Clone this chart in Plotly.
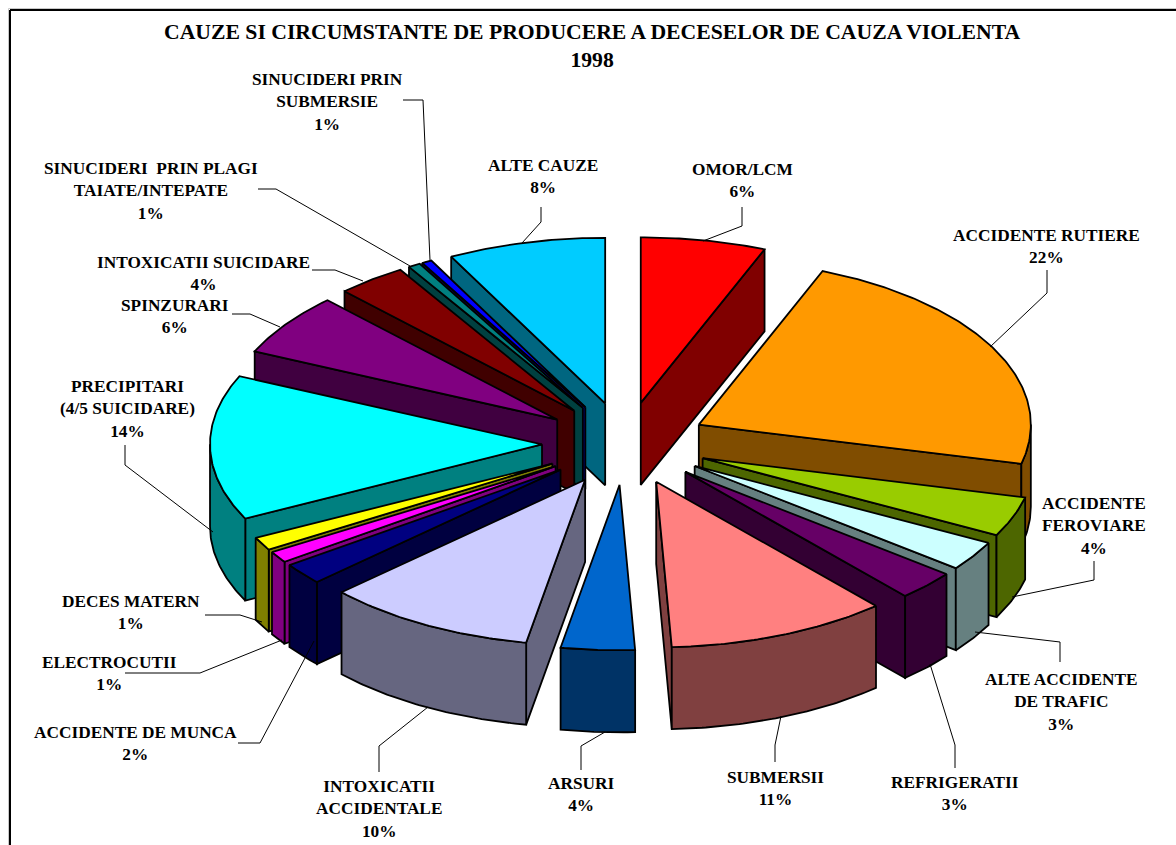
import math
import plotly.graph_objects as go

# ---- data -------------------------------------------------------------
categories = ["OMOR/LCM", "ACCIDENTE RUTIERE", "ACCIDENTE FEROVIARE", "ALTE ACCIDENTE DE TRAFIC",
              "REFRIGERATII", "SUBMERSII", "ARSURI", "INTOXICATII ACCIDENTALE",
              "ACCIDENTE DE MUNCA", "ELECTROCUTII", "DECES MATERN", "PRECIPITARI (4/5 SUICIDARE)",
              "SPINZURARI", "INTOXICATII SUICIDARE", "SINUCIDERI PRIN PLAGI TAIATE/INTEPATE",
              "SINUCIDERI PRIN SUBMERSIE", "ALTE CAUZE"]
values = [6.1, 22.8, 3.9, 2.9, 2.9, 10.8, 3.6, 10.3, 2.1, 1.1, 1.3, 14.2, 6.1, 3.4, 0.6, 0.5, 7.7]
colors = ["#FF0000", "#FF9900", "#99CC00", "#CCFFFF", "#660066", "#FF8080", "#0066CC", "#CCCCFF",
          "#000080", "#FF00FF", "#FFFF00", "#00FFFF", "#800080", "#800000", "#008080", "#0000FF", "#00CCFF"]
wall_colors = ["#800000", "#804D00", "#4D6600", "#668080", "#330033", "#804040", "#003366", "#666680",
               "#000040", "#800080", "#808000", "#008080", "#400040", "#400000", "#004040", "#000080", "#006680"]

# ---- projection of the 3D pie -------------------------------------------
CX, CY, RX, RY, DEPTH, PULL = 625, 443.5, 332, 165.5, 82, 0.25
LW = 1.8


def rim(ang, ax, ay, dy=0.0):
    r = math.radians(ang)
    return ax + RX * math.sin(r), ay - RY * math.cos(r) + dy


def arc(a0, a1, ax, ay, dy=0.0):
    n = max(2, int(abs(a1 - a0) * 1.5) + 2)
    pts = [rim(a0 + (a1 - a0) * i / (n - 1), ax, ay, dy) for i in range(n)]
    return [p[0] for p in pts], [p[1] for p in pts]


fig = go.Figure()


def poly(xs, ys, fill, name):
    fig.add_trace(go.Scatter(x=xs + xs[:1], y=ys + ys[:1], mode="lines", fill="toself",
                             fillcolor=fill, line=dict(color="black", width=LW),
                             hoverinfo="text", text=name, showlegend=False))


total = sum(values)
slices = []
cum = 0.0
for name, v, c, w in zip(categories, values, colors, wall_colors):
    a0 = cum / total * 360
    cum += v
    a1 = cum / total * 360
    slices.append((name, a0, a1, c, w))
# paint from the back of the pie to the front
slices.sort(key=lambda s: min((s[1] + s[2]) / 2, 360 - (s[1] + s[2]) / 2))

for name, a0, a1, c, w in slices:
    mid = math.radians((a0 + a1) / 2)
    ax = CX + PULL * RX * math.sin(mid)
    ay = CY - PULL * RY * math.cos(mid)
    # cut faces that look to the viewer
    for ang, vis in ((a0, 180 < a0 < 360), (a1, 0 < a1 < 180)):
        if vis:
            ox, oy = rim(ang, ax, ay)
            poly([ax, ox, ox, ax], [ay, oy, oy + DEPTH, ay + DEPTH], w, name)
    # outer wall: only the front half of the rim shows
    w0, w1 = max(a0, 90), min(a1, 270)
    if w1 > w0:
        tx, ty = arc(w0, w1, ax, ay)
        bx, by = arc(w1, w0, ax, ay, DEPTH)
        poly(tx + bx, ty + by, w, name)
    # top face
    tx, ty = arc(a0, a1, ax, ay)
    poly([ax] + tx, [ay] + ty, c, name)

# ---- leader lines -------------------------------------------------------
leaders = [
    [(522, 243), (541, 222), (541, 207)],
    [(703, 241), (742, 226), (742, 207)],
    [(990, 347), (1047, 293), (1047, 270)],
    [(1012, 597), (1094, 580), (1094, 561)],
    [(975, 632), (1060, 642), (1060, 662)],
    [(930, 664), (955, 745), (955, 768)],
    [(781, 716), (775, 745), (775, 762)],
    [(605, 732), (581, 746), (581, 770)],
    [(428, 707), (379, 746), (379, 772)],
    [(314, 641), (260, 743), (238, 743)],
    [(282, 640), (200, 673), (125, 673)],
    [(262, 622), (240, 615), (205, 615)],
    [(213, 532), (125, 465), (125, 445)],
    [(280, 327), (250, 314), (232, 314)],
    [(363, 281), (335, 270), (312, 270)],
    [(410, 266), (276, 189), (258, 189)],
    [(430, 260), (423, 100), (403, 100)],
]
for pts in leaders:
    fig.add_trace(go.Scatter(x=[p[0] for p in pts], y=[p[1] for p in pts], mode="lines",
                             line=dict(color="black", width=1), hoverinfo="skip", showlegend=False))

# ---- texts --------------------------------------------------------------
labels = [
    ("OMOR/LCM<br>6%", 742, 180),
    ("ACCIDENTE RUTIERE<br>22%", 1046, 246),
    ("ACCIDENTE<br>FEROVIARE<br>4%", 1094, 526),
    ("ALTE ACCIDENTE<br>DE TRAFIC<br>3%", 1061, 702),
    ("REFRIGERATII<br>3%", 955, 793),
    ("SUBMERSII<br>11%", 775, 788),
    ("ARSURI<br>4%", 581, 794),
    ("INTOXICATII<br>ACCIDENTALE<br>10%", 379, 809),
    ("ACCIDENTE DE MUNCA<br>2%", 135, 743),
    ("ELECTROCUTII<br>1%", 109, 673),
    ("DECES MATERN<br>1%", 131, 612),
    ("PRECIPITARI<br>(4/5 SUICIDARE)<br>14%", 127, 409),
    ("SPINZURARI<br>6%", 175, 316),
    ("INTOXICATII SUICIDARE<br>4%", 203, 273),
    ("SINUCIDERI  PRIN PLAGI<br>TAIATE/INTEPATE<br>1%", 151, 191),
    ("SINUCIDERI PRIN<br>SUBMERSIE<br>1%", 327, 102),
    ("ALTE CAUZE<br>8%", 543, 176),
]
annotations = [dict(text="<b>" + t + "</b>", x=x, y=y, xref="x", yref="y", showarrow=False, align="center",
                    font=dict(family="Liberation Serif", size=17.3, color="black"))
               for t, x, y in labels]
annotations.append(dict(text="<b>CAUZE SI CIRCUMSTANTE DE PRODUCERE A DECESELOR DE CAUZA VIOLENTA<br>1998</b>",
                        x=592, y=46, xref="x", yref="y", showarrow=False, align="center",
                        font=dict(family="Liberation Serif", size=21.7, color="black")))

fig.update_layout(
    width=1176, height=845, margin=dict(l=0, r=0, t=0, b=0),
    paper_bgcolor="white", plot_bgcolor="white",
    xaxis=dict(range=[0, 1176], visible=False, fixedrange=True),
    yaxis=dict(range=[845, 0], visible=False, fixedrange=True),
    annotations=annotations, showlegend=False,
    shapes=[dict(type="line", x0=8.5, x1=8.5, y0=8.5, y1=845, line=dict(color="#C8C8C8", width=1)),
            dict(type="line", x0=8.5, x1=1176, y0=8.5, y1=8.5, line=dict(color="#C8C8C8", width=1)),
            dict(type="line", x0=10, x1=10, y0=10, y1=845, line=dict(color="black", width=2)),
            dict(type="line", x0=10, x1=1176, y0=10, y1=10, line=dict(color="black", width=2))],
)
fig.write_html("out.html", config=dict(displayModeBar=False),
               post_script="document.documentElement.style.overflow='hidden';document.body.style.margin='0';document.body.style.padding='0';")
